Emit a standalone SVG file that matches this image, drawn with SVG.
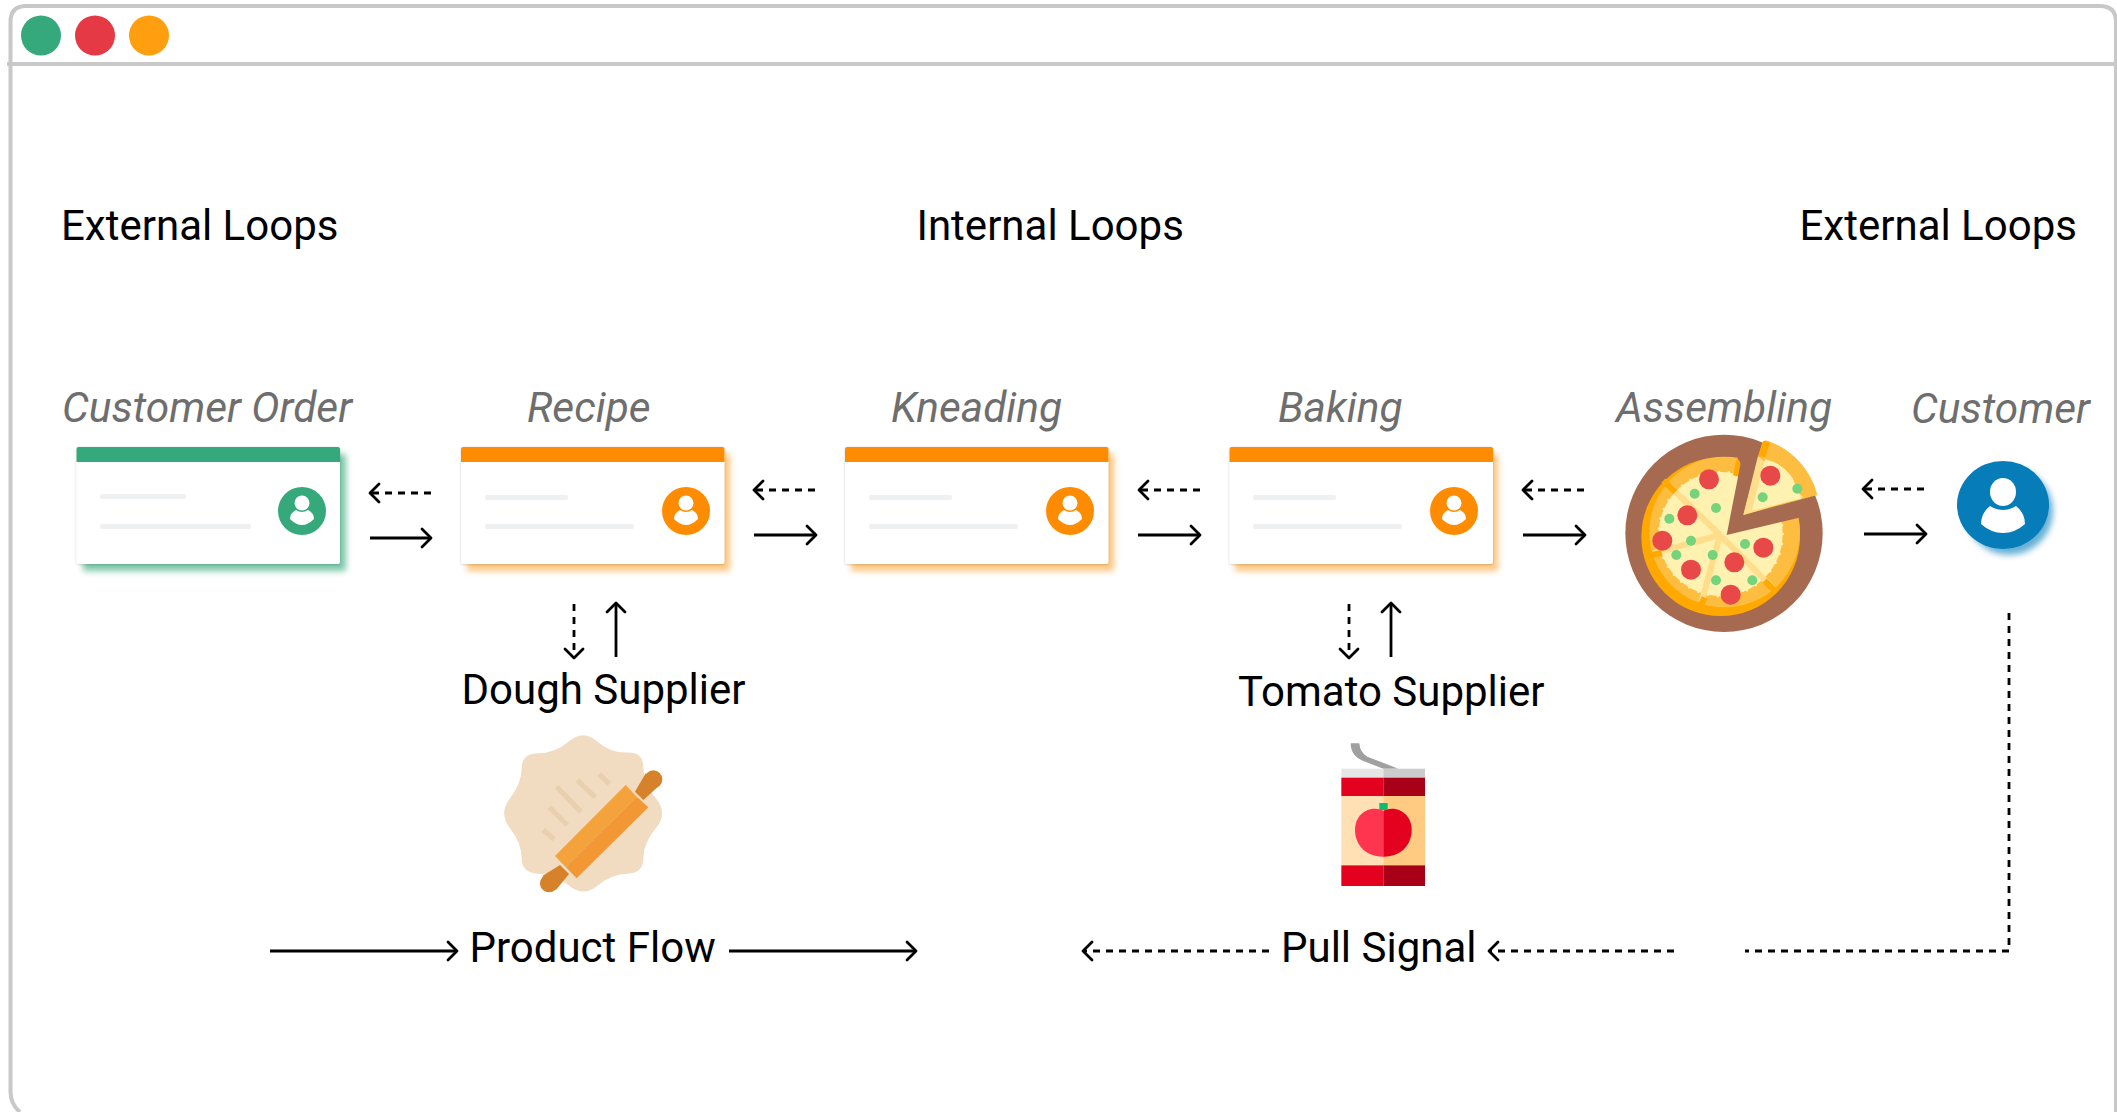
<svg xmlns="http://www.w3.org/2000/svg" width="2117" height="1112" viewBox="0 0 2117 1112">
<style>
.t{font-family:Roboto,"Liberation Sans",sans-serif;font-size:42px;fill:#000}
.i{font-family:Roboto,"Liberation Sans",sans-serif;font-size:42.4px;font-style:italic;font-weight:400;fill:#6e6e6e}
.s{fill:none;stroke:#000;stroke-width:2.8}
.d{fill:none;stroke:#000;stroke-width:2.8;stroke-dasharray:7 6}
.h{fill:none;stroke:#000;stroke-width:2.8;stroke-linecap:round;stroke-linejoin:round}
.bar{fill:#eef0f2}
.card{fill:#fff}
.g{fill:#36a97c}
.o{fill:#ff8c00}
.w{fill:#fff}
.pep{fill:#e94848}
.grn{fill:#75d37c}
</style>
<defs>
<filter id="blur" x="-20%" y="-20%" width="140%" height="140%"><feGaussianBlur stdDeviation="3"/></filter>
<filter id="cardshadow" x="-5%" y="-5%" width="110%" height="110%"><feDropShadow dx="0" dy="0.5" stdDeviation="1" flood-color="#000" flood-opacity=".2"/></filter>
<symbol id="user" overflow="visible"><circle cx="0" cy="-8" r="7.5" class="w"/><path class="w" d="M-6 -1 Q0 3 6 -1 Q12 2 12 8 Q6 14 0 14 Q-6 14 -12 8 Q-12 2 -6 -1Z"/></symbol>
</defs>

<g id="frame" fill="none" stroke="#c8c8c8" stroke-width="4">
<path d="M10.500 1092V22Q10.500 6 26 6H2100Q2116 6 2116 22V1112"/>
<path d="M10.500 1092Q10.500 1104 20 1112"/>
<path d="M7 64H2117"/>
</g>
<g id="window-buttons">
<circle cx="41" cy="35.500" r="20" fill="#36a97c"/>
<circle cx="95" cy="35.500" r="20" fill="#e63946"/>
<circle cx="149" cy="35.500" r="20" fill="#ff9f10"/>
</g>

<g id="headings">
<text class="t" x="61" y="240">External Loops</text>
<text class="t" x="916.500" y="240">Internal Loops</text>
<text class="t" x="1799.500" y="240">External Loops</text>
</g>

<g id="node-customer-order">
<text class="i" x="62" y="422">Customer Order</text>
<rect x="83" y="454" width="263" height="117" fill="#36a97c" opacity=".65" filter="url(#blur)"/>
<rect class="card" x="76.500" y="447" width="263.500" height="117" rx="2" filter="url(#cardshadow)"/>
<path class="g" d="M76.500 462V449q0-2 2-2H338q2 0 2 2V462Z"/>
<rect class="bar" x="100" y="494" width="86" height="5" rx="2"/>
<rect class="bar" x="100" y="524" width="151" height="5" rx="2"/>
<circle class="g" cx="302" cy="511" r="24"/><use href="#user" x="302" y="511"/>
</g>
<g id="node-recipe">
<text class="i" x="527" y="422">Recipe</text>
<rect x="467" y="454" width="263" height="117" fill="#ff8c00" opacity=".5" filter="url(#blur)"/>
<rect class="card" x="461" y="447" width="263.500" height="117" rx="2" filter="url(#cardshadow)"/>
<path class="o" d="M461 462V449q0-2 2-2H722.500q2 0 2 2V462Z"/>
<rect class="bar" x="485" y="495" width="83" height="5" rx="2"/>
<rect class="bar" x="485" y="524" width="149" height="5" rx="2"/>
<circle class="o" cx="686" cy="511" r="24"/><use href="#user" x="686" y="511"/>
</g>
<g id="node-kneading">
<text class="i" x="891" y="422">Kneading</text>
<rect x="851" y="454" width="263" height="117" fill="#ff8c00" opacity=".5" filter="url(#blur)"/>
<rect class="card" x="845" y="447" width="263.500" height="117" rx="2" filter="url(#cardshadow)"/>
<path class="o" d="M845 462V449q0-2 2-2H1106.500q2 0 2 2V462Z"/>
<rect class="bar" x="869" y="495" width="83" height="5" rx="2"/>
<rect class="bar" x="869" y="524" width="149" height="5" rx="2"/>
<circle class="o" cx="1070" cy="511" r="24"/><use href="#user" x="1070" y="511"/>
</g>
<g id="node-baking">
<text class="i" x="1278" y="422">Baking</text>
<rect x="1235" y="454" width="263" height="117" fill="#ff8c00" opacity=".5" filter="url(#blur)"/>
<rect class="card" x="1229.500" y="447" width="263.500" height="117" rx="2" filter="url(#cardshadow)"/>
<path class="o" d="M1229.500 462V449q0-2 2-2H1491q2 0 2 2V462Z"/>
<rect class="bar" x="1253" y="495" width="83" height="5" rx="2"/>
<rect class="bar" x="1253" y="524" width="149" height="5" rx="2"/>
<circle class="o" cx="1454" cy="511" r="24"/><use href="#user" x="1454" y="511"/>
</g>

<g id="node-assembling">
<text class="i" x="1616" y="422">Assembling</text>
<g transform="translate(1600 420) scale(.33333)">
<circle cx="372" cy="340" r="296" fill="#a66a50"/>
<circle cx="362" cy="350" r="238" fill="#ffa800"/>
<circle cx="374" cy="336" r="226" fill="#fdbd40"/>
<circle cx="362" cy="342" r="186" fill="#fff1b0" stroke="#fff1b0" stroke-width="8" stroke-linecap="round" stroke-dasharray="0 30"/>
<g stroke="#ffdd8a" stroke-width="18" fill="none">
<path d="M360 345L205 195M360 345L160 400M360 345L305 545M360 345L520 505"/>
</g>
<g stroke="#ffa800" stroke-width="18" fill="none">
<path d="M190 182L226 216M148 408L185 398M300 560L314 533M494 482L530 518M418 122L408 168"/>
</g>
<path d="M380 345L420 140Q424 122 412 118L440 70L476 66L640 225L600 270L597 293Z" fill="#a66a50"/>
<path d="M430 285L486 72Q490 58 504 63A231 231 0 0 1 652 225Z" fill="#fdbd40"/>
<path d="M474 108L487 68Q490 58 510 68L496 112Z" fill="#ffa800"/>
<path d="M430 285L474 108L610 232Z" fill="#ffdd8a"/>
<path d="M455 272L495 118Q550 130 578 175Q595 215 604 236Z" fill="#fff1b0"/>
<g class="pep">
<circle cx="327" cy="178" r="30"/><circle cx="262" cy="286" r="30"/><circle cx="187" cy="362" r="30"/><circle cx="273" cy="449" r="30"/><circle cx="403" cy="427" r="30"/><circle cx="392" cy="524" r="30"/><circle cx="490" cy="383" r="30"/><circle cx="511" cy="167" r="30"/>
</g>
<g class="grn">
<circle cx="284" cy="221" r="15"/><circle cx="348" cy="264" r="15"/><circle cx="208" cy="296" r="15"/><circle cx="273" cy="362" r="15"/><circle cx="229" cy="405" r="15"/><circle cx="338" cy="405" r="15"/><circle cx="435" cy="372" r="15"/><circle cx="348" cy="481" r="15"/><circle cx="457" cy="481" r="15"/><circle cx="488" cy="232" r="15"/><circle cx="592" cy="206" r="15"/>
</g>
</g>
</g>

<g id="node-customer">
<text class="i" x="1911" y="423">Customer</text>
<circle cx="2009" cy="511" r="44" fill="#067cb8" opacity=".6" filter="url(#blur)"/>
<ellipse cx="2003" cy="505" rx="46" ry="44" fill="#067cb8"/>
<ellipse class="w" cx="2003" cy="492" rx="13" ry="14"/>
<path class="w" d="M1990 506Q2003 514 2016 506Q2025 513 2025 524Q2015 533 2003 533Q1991 533 1981 524Q1981 513 1990 506Z"/>
</g>

<g id="node-dough-supplier">
<text class="t" x="461.500" y="704">Dough Supplier</text>
<g transform="translate(480 720) scale(.33333)">
<path fill="#f1dbc1" d="M351 64Q392 100 441 97.500Q490 95 490 142.500Q490 190 527.500 235Q565 280 527.500 325Q490 370 490 415Q490 460 442.500 461Q395 462 352.500 497Q310 532 267.500 497Q225 462 175 461Q125 460 125 415Q125 370 90 325Q55 280 90 235Q125 190 125 145Q125 100 175 100Q225 100 267.500 64Q310 28 351 64Z"/>
<path stroke="#e8d0ae" stroke-width="15" fill="none" d="M230 200L303 275M292 180L345 232M358 162L388 192M208 262L262 315M190 330L222 358"/>
<g fill="#d6822b">
<circle cx="520" cy="178" r="27"/><path d="M465 215L497 160L540 195L490 240Z"/>
<circle cx="207" cy="490" r="27"/><path d="M240 435L187 468L228 510L267 462Z"/>
</g>
<path fill="#f4a23c" d="M225 408L437 195L470 230L258 442Z"/>
<path fill="#f29733" d="M258 442L470 230L505 262L290 475Z"/>
</g>
</g>

<g id="node-tomato-supplier">
<text class="t" x="1238" y="706">Tomato Supplier</text>
<g transform="translate(1310 726) scale(.33333)">
<path fill="#a0a0a0" d="M122 52H148Q150 80 172 92L265 128H220L160 105Q122 90 122 52Z"/>
<rect x="94" y="128" width="126" height="27" fill="#e6e6e6"/><rect x="220" y="128" width="125" height="27" fill="#ccc"/>
<rect x="94" y="155" width="126" height="55" fill="#e4001f"/><rect x="220" y="155" width="125" height="55" fill="#a80016"/>
<rect x="94" y="210" width="126" height="208" fill="#ffe0b5"/><rect x="220" y="210" width="125" height="208" fill="#ffcb82"/>
<rect x="94" y="418" width="126" height="62" fill="#e4001f"/><rect x="220" y="418" width="125" height="62" fill="#a80016"/>
<path fill="#ff3550" d="M220 392C160 392 135 350 135 312C135 270 165 248 195 248Q210 248 220 254Z"/>
<path fill="#e4001f" d="M220 392C280 392 305 350 305 312C305 270 275 248 245 248Q230 248 220 254Z"/>
<rect x="208" y="231" width="25" height="21" fill="#0dbb6e"/>
</g>
</g>

<g id="flow-labels">
<text class="t" x="469.500" y="962">Product Flow</text>
<text class="t" x="1281" y="962">Pull Signal</text>
</g>

<g id="connectors">
<path class="d" d="M431 493H372"/><path class="h" d="M379 484L370 493L379 502"/>
<path class="s" d="M370 538H430"/><path class="h" d="M422 529L431 538L422 547"/>
<path class="d" d="M815 490H756"/><path class="h" d="M763 481L754 490L763 499"/>
<path class="s" d="M754 535H815"/><path class="h" d="M807 526L816 535L807 544"/>
<path class="d" d="M1200 490H1141"/><path class="h" d="M1148 481L1139 490L1148 499"/>
<path class="s" d="M1138 535H1199"/><path class="h" d="M1191 526L1200 535L1191 544"/>
<path class="d" d="M1584 490H1525"/><path class="h" d="M1532 481L1523 490L1532 499"/>
<path class="s" d="M1523 535H1584"/><path class="h" d="M1576 526L1585 535L1576 544"/>
<path class="d" d="M1924 489H1865"/><path class="h" d="M1872 480L1863 489L1872 498"/>
<path class="s" d="M1864 534H1925"/><path class="h" d="M1917 525L1926 534L1917 543"/>
<path class="d" d="M574 604V656"/><path class="h" d="M565 649L574 658L583 649"/>
<path class="s" d="M616 657V604"/><path class="h" d="M607 612L616 603L625 612"/>
<path class="d" d="M1349 604V656"/><path class="h" d="M1340 649L1349 658L1358 649"/>
<path class="s" d="M1391 657V604"/><path class="h" d="M1382 612L1391 603L1400 612"/>
<path class="d" d="M2009 613V951H1745"/>
<path class="d" d="M1674 951H1491"/><path class="h" d="M1498 942L1489 951L1498 960"/>
<path class="d" d="M1269 951H1085"/><path class="h" d="M1092 942L1083 951L1092 960"/>
<path class="s" d="M270 951H456"/><path class="h" d="M448 942L457 951L448 960"/>
<path class="s" d="M729 951H915"/><path class="h" d="M907 942L916 951L907 960"/>
</g>
</svg>
